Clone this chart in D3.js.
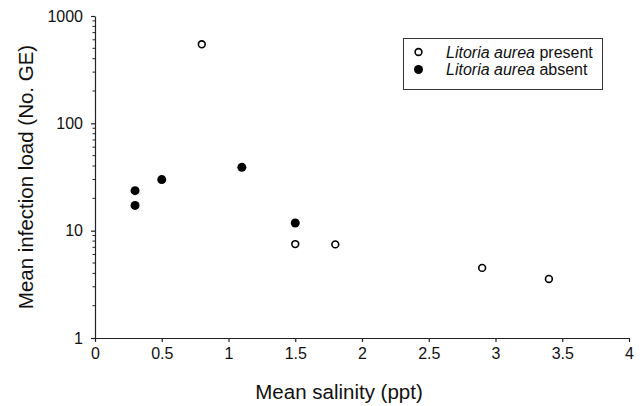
<!DOCTYPE html>
<html>
<head>
<meta charset="utf-8">
<script src="https://cdn.jsdelivr.net/npm/d3@7"></script>
<style>
  html, body { margin: 0; padding: 0; background: #fff; }
  svg { display: block; font-family: "Liberation Sans", Arial, sans-serif; }
</style>
</head>
<body>
<svg id="chart" width="643" height="406"></svg>
<script>
// Mean salinity (ppt) and mean infection load per site
const presentSalinity = [0.8, 1.5, 1.8, 2.9, 3.4];
const presentLoad     = [545, 7.5, 7.45, 4.5, 3.55];
const absentSalinity  = [0.3, 0.3, 0.5, 1.1, 1.5];
const absentLoad      = [23.6, 17.2, 29.9, 38.9, 11.8];

const xTicks = [0, 0.5, 1, 1.5, 2, 2.5, 3, 3.5, 4];
const yTicks = [1, 10, 100, 1000];
const legendLabels = ["present", "absent"];

const svg = d3.select("#chart");
const plotLeft = 95, plotRight = 629, plotTop = 16, plotBottom = 338;

const x = d3.scaleLinear().domain([0, 4]).range([plotLeft, plotRight]);
const y = d3.scaleLog().domain([1, 1000]).range([plotBottom, plotTop]);

const axisColor = "#222";

// x axis
const gx = svg.append("g").attr("transform", `translate(0,${plotBottom})`)
  .call(d3.axisBottom(x).tickValues(xTicks).tickSize(4).tickPadding(6)
    .tickFormat(d3.format("")).tickSizeOuter(0));
gx.select(".domain").attr("stroke", axisColor).attr("stroke-width", 1.2);
gx.selectAll(".tick line").attr("stroke", axisColor).attr("stroke-width", 1.2);
gx.selectAll(".tick text").attr("font-size", 16).attr("fill", "#111")
  .attr("font-family", "Liberation Sans, Arial, sans-serif");

// y axis: major ticks with labels
const gy = svg.append("g").attr("transform", `translate(${plotLeft},0)`)
  .call(d3.axisLeft(y).tickValues(yTicks).tickSize(4).tickPadding(8)
    .tickFormat(d3.format("d")).tickSizeOuter(0));
gy.select(".domain").attr("stroke", axisColor).attr("stroke-width", 1.2);
gy.selectAll(".tick line").attr("stroke", axisColor).attr("stroke-width", 1.2);
gy.selectAll(".tick text").attr("font-size", 16).attr("fill", "#111")
  .attr("font-family", "Liberation Sans, Arial, sans-serif");

// y axis: minor ticks between decades
const minor = [];
for (const dec of [1, 10, 100]) for (let k = 2; k <= 9; k++) minor.push(dec * k);
svg.append("g").selectAll("line").data(minor).join("line")
  .attr("x1", plotLeft - 2.5).attr("x2", plotLeft)
  .attr("y1", d => y(d)).attr("y2", d => y(d))
  .attr("stroke", axisColor).attr("stroke-width", 1);

// axis titles
svg.append("text")
  .attr("x", (plotLeft + plotRight) / 2 - 23).attr("y", 399)
  .attr("text-anchor", "middle").attr("font-size", 20.5).attr("fill", "#111")
  .text("Mean salinity (ppt)");
svg.append("text")
  .attr("transform", `translate(33,${(plotTop + plotBottom) / 2}) rotate(-90)`)
  .attr("text-anchor", "middle").attr("font-size", 20.5).attr("fill", "#111")
  .text("Mean infection load (No. GE)");

// points
const presentPts = presentSalinity.map((s, i) => ({ s, v: presentLoad[i] }));
const absentPts = absentSalinity.map((s, i) => ({ s, v: absentLoad[i] }));

svg.append("g").selectAll("circle").data(absentPts).join("circle")
  .attr("cx", d => x(d.s)).attr("cy", d => y(d.v)).attr("r", 4.5)
  .attr("fill", "#000");
svg.append("g").selectAll("circle").data(presentPts).join("circle")
  .attr("cx", d => x(d.s)).attr("cy", d => y(d.v)).attr("r", 3.4)
  .attr("fill", "#fff").attr("stroke", "#000").attr("stroke-width", 1.6);

// legend
const lg = svg.append("g");
lg.append("rect").attr("x", 403.5).attr("y", 38.5).attr("width", 199).attr("height", 51)
  .attr("fill", "#fff").attr("stroke", "#333").attr("stroke-width", 1);
lg.append("circle").attr("cx", 418.5).attr("cy", 52).attr("r", 3.4)
  .attr("fill", "#fff").attr("stroke", "#000").attr("stroke-width", 1.6);
lg.append("circle").attr("cx", 418.5).attr("cy", 69.5).attr("r", 4.5).attr("fill", "#000");
legendLabels.forEach((lab, i) => {
  const t = lg.append("text").attr("x", 446).attr("y", 57.5 + i * 17.5)
    .attr("font-size", 16).attr("fill", "#111");
  t.append("tspan").attr("font-style", "italic").text("Litoria aurea");
  t.append("tspan").text(" " + lab);
});
</script>
</body>
</html>
